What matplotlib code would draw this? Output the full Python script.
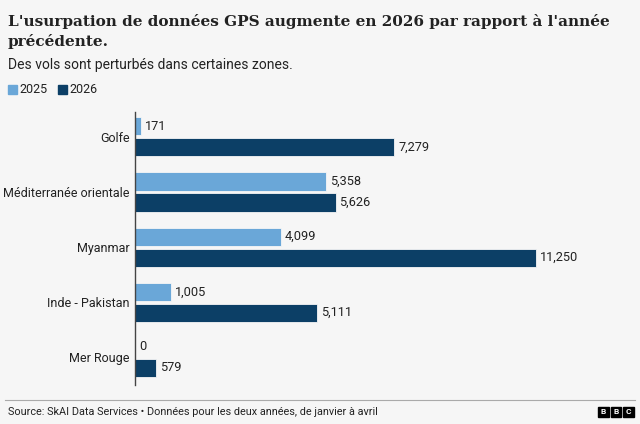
import matplotlib.pyplot as plt
import numpy as np
from matplotlib.patches import Rectangle

plt.rcParams['font.family'] = ['Roboto', 'DejaVu Sans']

zones = ["Golfe", "Méditerranée orientale", "Myanmar", "Inde - Pakistan", "Mer Rouge"]
vals_2025 = [171, 5358, 4099, 1005, 0]
vals_2026 = [7279, 5626, 11250, 5111, 579]
years = ["2025", "2026"]

bg = "#f6f6f6"
c25 = "#6aa7d8"
c26 = "#0c3f66"
txt = "#222222"

fig = plt.figure(figsize=(6.4, 4.24), dpi=100)
fig.patch.set_facecolor(bg)
W, H = 640, 424

# axes: x 135..630 px, y 112..385 px
ax = fig.add_axes([135 / W, 1 - 385 / H, (630 - 135) / W, (385 - 112) / H])
ax.set_facecolor(bg)

y = np.arange(len(zones))
bh = 0.33
ax.barh(y - 0.19, vals_2025, height=bh, color=c25, edgecolor=bg, linewidth=0.6)
ax.barh(y + 0.19, vals_2026, height=bh, color=c26, edgecolor=bg, linewidth=0.6)

for yi, v in zip(y, vals_2025):
    ax.text(v + 110, yi - 0.19, f"{v:,}", va="center", ha="left", fontsize=9.2, color=txt)
for yi, v in zip(y, vals_2026):
    ax.text(v + 110, yi + 0.19, f"{v:,}", va="center", ha="left", fontsize=9.2, color=txt)

ax.set_xlim(0, 11250 * 495 / 401)
ax.set_ylim(len(zones) - 0.5, -0.45)
ax.set_yticks(y)
ax.set_yticklabels(zones, fontsize=9, color=txt)
ax.tick_params(axis="y", length=0, pad=4)
ax.set_xticks([])
for s in ["top", "right", "bottom"]:
    ax.spines[s].set_visible(False)
ax.spines["left"].set_color("#444444")
ax.spines["left"].set_linewidth(1)

# title, subtitle, legend
fig.text(8 / W, 1 - 31.5 / H, "L'usurpation de données GPS augmente en 2026 par rapport à l'année\nprécédente.",
         family="DejaVu Serif", weight="bold", fontsize=11, color=txt, va="center", ha="left",
         linespacing=1.45)
fig.text(8 / W, 1 - 65 / H, "Des vols sont perturbés dans certaines zones.", fontsize=10, color=txt,
         va="center", ha="left")

lx = 8
for lab, col in zip(years, [c25, c26]):
    fig.patches.append(Rectangle((lx / W, 1 - 94 / H), 9 / W, 9 / H, transform=fig.transFigure,
                                 color=col))
    fig.text((lx + 11) / W, 1 - 89.5 / H, lab, fontsize=9, color=txt, va="center", ha="left")
    lx += 50

# footer
fig.add_artist(plt.Line2D([5 / W, 635 / W], [1 - 400 / H, 1 - 400 / H], color="#aaaaaa", lw=0.8))
fig.text(8 / W, 1 - 412 / H, "Source: SkAI Data Services • Données pour les deux années, de janvier à avril",
         fontsize=7.8, color=txt, va="center", ha="left")
for i, ch in enumerate("BBC"):
    x0 = 598 + i * 12.5
    fig.patches.append(Rectangle((x0 / W, 1 - 417 / H), 10.5 / W, 10.5 / H, transform=fig.transFigure,
                                 color="black"))
    fig.text((x0 + 5.25) / W, 1 - 411.8 / H, ch, fontsize=6, color="white", weight="bold",
             va="center", ha="center")

fig.savefig("out.png", dpi=100, facecolor=bg)
